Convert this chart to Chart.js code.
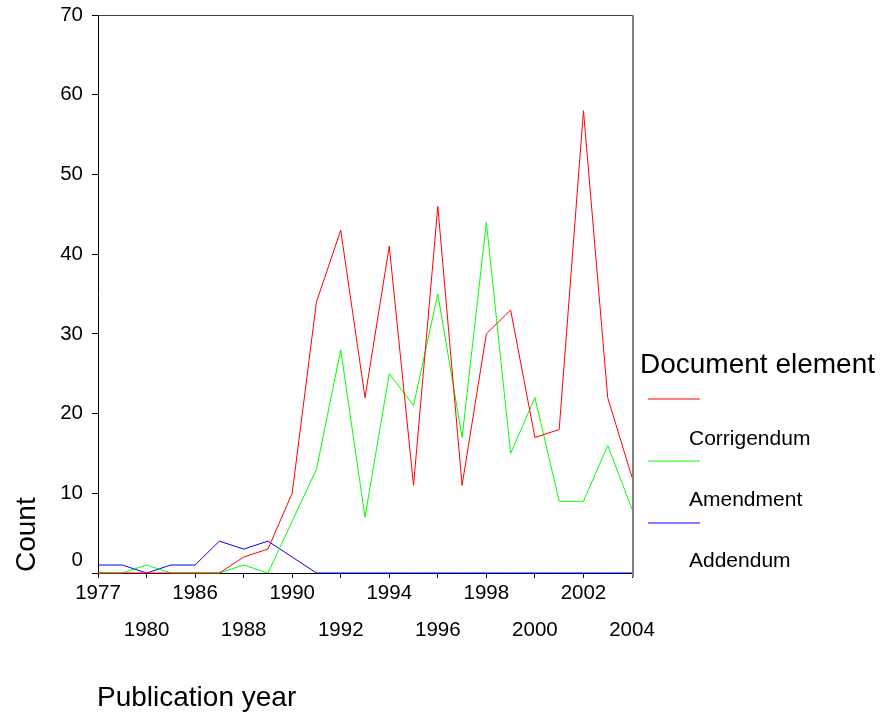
<!DOCTYPE html>
<html>
<head>
<meta charset="utf-8">
<script src="https://cdn.jsdelivr.net/npm/chart.js@4/dist/chart.umd.min.js"></script>
<style>
  html, body { margin: 0; padding: 0; background: #fff; }
  #wrap { width: 881px; height: 715px; position: relative; }
</style>
</head>
<body>
<div id="wrap"><canvas id="countChart"></canvas></div>
<script>
const years = ['1977', '1979', '1980', '1985', '1986', '1987', '1988', '1989', '1990', '1991', '1992',
  '1993', '1994', '1995', '1996', '1997', '1998', '1999', '2000', '2001', '2002', '2003', '2004'];
const corrigendum = [0, 0, 0, 0, 0, 0, 2, 3, 10, 34, 43, 22, 41, 11, 46, 11, 30, 33, 17, 18, 58, 22, 12];
const amendment = [0, 0, 1, 0, 0, 0, 1, 0, 6.5, 13, 28, 7, 25, 21, 35, 17, 44, 15, 22, 9, 9, 16, 8];
const addendum = [1, 1, 0, 1, 1, 4, 3, 4, 2, 0, 0, 0, 0, 0, 0, 0, 0, 0, 0, 0, 0, 0, 0];
const yTicks = [0, 10, 20, 30, 40, 50, 60, 70];

const FONT = "'Liberation Sans', Arial, sans-serif";

// legend + axis titles drawn by hand, the layout of the original is not chart.js-like
const extras = {
  id: 'extras',
  afterDraw(chart) {
    const ctx = chart.ctx;
    const area = chart.chartArea;
    ctx.save();
    // frame top / right
    ctx.strokeStyle = '#404040';
    ctx.lineWidth = 1;
    ctx.beginPath();
    ctx.moveTo(area.left, area.top + 0.5);
    ctx.lineTo(area.right, area.top + 0.5);
    ctx.stroke();
    ctx.strokeStyle = '#808080';
    ctx.lineWidth = 2;
    ctx.beginPath();
    ctx.moveTo(area.right + 1, area.top);
    ctx.lineTo(area.right + 1, area.bottom + 4);
    ctx.stroke();

    ctx.fillStyle = '#000';
    ctx.textBaseline = 'alphabetic';
    ctx.textAlign = 'left';
    ctx.font = '28px ' + FONT;
    ctx.fillText('Publication year', 97, 706);
    ctx.fillText('Document element', 640, 373);

    ctx.save();
    ctx.translate(35, 572);
    ctx.rotate(-Math.PI / 2);
    ctx.fillText('Count', 0, 0);
    ctx.restore();

    ctx.font = '21px ' + FONT;
    chart.data.datasets.forEach((ds, i) => {
      const ly = 399 + i * 62;
      ctx.strokeStyle = ds.borderColor;
      ctx.lineWidth = 1;
      ctx.beginPath();
      ctx.moveTo(648, ly);
      ctx.lineTo(700, ly);
      ctx.stroke();
      ctx.fillStyle = '#000';
      ctx.fillText(ds.label, 689, 445 + i * 61.2);
    });
    ctx.restore();
  }
};

new Chart(document.getElementById('countChart'), {
  type: 'line',
  data: {
    labels: years,
    datasets: [
      { label: 'Corrigendum', data: corrigendum, borderColor: '#ff0000' },
      { label: 'Amendment', data: amendment, borderColor: '#00ff00' },
      { label: 'Addendum', data: addendum, borderColor: '#0000ff' }
    ]
  },
  options: {
    responsive: true,
    maintainAspectRatio: false,
    animation: false,
    layout: { padding: { top: 15, right: 249, left: 0, bottom: 0 } },
    datasets: {
      line: { borderWidth: 1, pointRadius: 0, tension: 0, fill: false, clip: false }
    },
    plugins: {
      legend: { display: false },
      tooltip: { enabled: false }
    },
    scales: {
      x: {
        offset: false,
        afterFit: (scale) => { scale.height = 142; scale.paddingLeft = 0; scale.paddingRight = 0; },
        grid: {
          drawOnChartArea: false,
          tickLength: 5,
          color: (c) => (c.index % 2 === 0 ? '#000' : 'rgba(0,0,0,0)')
        },
        border: { color: '#000', width: 1 },
        ticks: {
          autoSkip: false,
          maxRotation: 0,
          minRotation: 0,
          padding: -3,
          color: '#000',
          font: { family: FONT, size: 20.5, lineHeight: '37px' },
          callback: function (val, i) {
            const lab = this.getLabelForValue(val);
            if (i % 4 === 0) return [lab];
            if (i % 4 === 2) return ['', lab];
            return '';
          }
        }
      },
      y: {
        min: 0,
        max: 70,
        afterFit: (scale) => { scale.width = 98; scale.paddingTop = 0; scale.paddingBottom = 0; },
        afterBuildTicks: (scale) => { scale.ticks = yTicks.map(v => ({ value: v })); },
        grid: { drawOnChartArea: false, tickLength: 6, color: '#000' },
        border: { color: '#000', width: 1 },
        ticks: {
          padding: 9,
          color: '#000',
          font: { family: FONT, size: 20.5, lineHeight: 1.2 },
          callback: (v) => (v === 0 ? ['0', ''] : String(v))
        }
      }
    }
  },
  plugins: [extras]
});
</script>
</body>
</html>
